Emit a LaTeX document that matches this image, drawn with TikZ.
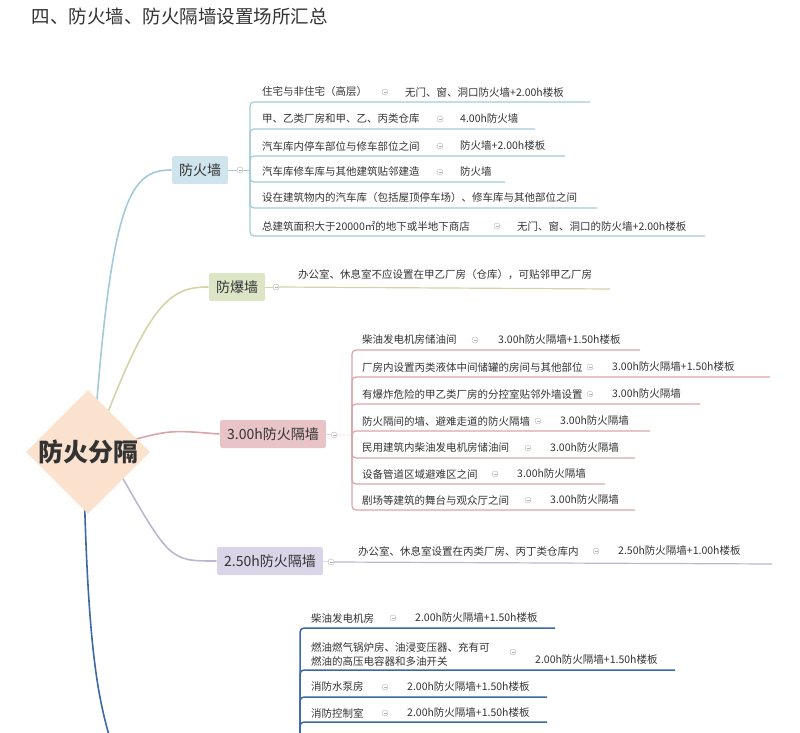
\documentclass[tikz,border=0pt]{standalone}
\usepackage{fontspec}
\setmainfont{Noto Sans CJK SC}
\usetikzlibrary{shapes.geometric}
\definecolor{txt}{HTML}{333333}
\definecolor{bluel}{HTML}{A3CAD8}
\definecolor{bluef}{HTML}{CFE4EC}
\definecolor{olivel}{HTML}{D6D3A8}
\definecolor{olivef}{HTML}{DCE6C6}
\definecolor{pinkl}{HTML}{D9A4AA}
\definecolor{pinkf}{HTML}{E8C4C7}
\definecolor{lavl}{HTML}{BDB5D2}
\definecolor{lavf}{HTML}{DAD4E8}
\definecolor{darkl}{HTML}{3C69A6}
\definecolor{peach}{HTML}{FBE2CE}

\begin{document}
\begin{tikzpicture}[x=1pt,y=-1pt,
  leaf/.style={inner sep=0pt, anchor=west, text=txt, font=\fontsize{10.5}{14}\selectfont},
  branch/.style={rectangle, rounded corners=2pt, minimum height=28pt, inner xsep=7pt, text=txt, font=\fontsize{14}{16}\selectfont},
  minus/.style={circle, draw=gray!60, thin, minimum size=6pt, inner sep=0pt, path picture={\draw[gray!60] (path picture bounding box.west) ++(1.5pt,0) -- ++(3pt,0);}},
  link/.style={line width=1.6pt, line cap=round}]
\useasboundingbox (0,0) rectangle (800,733);
\clip (0,0) rectangle (800,733);

\node[anchor=west, text=txt, font=\fontsize{18.5}{21}\selectfont] (title) at (28,16) {四、防火墙、防火隔墙设置场所汇总};

% main branches
\draw[link, bluel]  (95,425) .. controls (112,200) and (130,170) .. (171,170);
\draw[link, olivel] (102,428) .. controls (150,300) and (172,287) .. (208,287);
\draw[link, pinkl]  (125,442) .. controls (170,430) .. (219,434);
\draw[link, lavl]   (118,470) .. controls (170,561) .. (216,561);
\draw[link, darkl]  (84,480) .. controls (88,650) and (98,700) .. (112,745);

\node[diamond, fill=peach, minimum width=120pt, minimum height=78pt, inner sep=0pt,
      text=txt, font=\fontsize{25}{27}\selectfont\bfseries] (root) at (88,452) {防火分隔};

\node[branch, fill=bluef]  (fhq) at (200,170) {防火墙};
\node[branch, fill=olivef] (fbq) at (237,287) {防爆墙};
\node[branch, fill=pinkf]  (g300) at (273,434) {3.00h防火隔墙};
\node[branch, fill=lavf]   (g250) at (270,561) {2.50h防火隔墙};

% 防火墙
\node[minus] (fhqm) at (240,170) {};
\draw[bluel, thin] (fhq.east) -- (fhqm.west) (fhqm.east) -- (250,170);
\foreach \i/\y/\a/\c/\b/\e in {1/92/住宅与非住宅（高层）/385/无门、窗、洞口防火墙+2.00h楼板/590,
    2/119/甲、乙类厂房和甲、乙、丙类仓库/440/4.00h防火墙/535,
    3/146/汽车库内停车部位与修车部位之间/440/防火墙+2.00h楼板/565,
    4/172/汽车库修车库与其他建筑贴邻建造/440/防火墙/505,
    6/226/总建筑面积大于20000㎡的地下或半地下商店/497/无门、窗、洞口的防火墙+2.00h楼板/705}{
  \node[leaf] (fa\i) at (262,\y) {\a};
  \node[minus] (fm\i) at (\c,\y) {};
  \node[leaf] (fb\i) at (\c+20,\y) {\b};
  \draw[bluel, line width=1.2pt, rounded corners=4pt] (250,170) -- (250,\y+10) -- (\e,\y+10);
}
\node[leaf] (fa5) at (262,198) {设在建筑物内的汽车库（包括屋顶停车场）、修车库与其他部位之间};
\draw[bluel, line width=1.2pt, rounded corners=4pt] (250,170) -- (250,208) -- (597,208);

% 防爆墙
\node[minus] (fbqm) at (276,287) {};
\draw[olivel, thin] (fbq.east) -- (fbqm.west);
\draw[olivel, line width=1.2pt] (fbqm.east) -- (610,289);
\node[leaf] (fbqa) at (298,275) {办公室、休息室不应设置在甲乙厂房（仓库），可贴邻甲乙厂房};

% 3.00h防火隔墙
\node[minus] (g300m) at (334,435) {};
\draw[pinkl, thin] (g300.east) -- (g300m.west) (g300m.east) -- (352,435);
\foreach \i/\y/\a/\c/\e in {1/340/柴油发电机房储油间/475/640,
    2/367/厂房内设置丙类液体中间储罐的房间与其他部位/590/770,
    3/394/有爆炸危险的甲乙类厂房的分控室贴邻外墙设置/590/700,
    4/421/防火隔间的墙、避难走道的防火隔墙/538/650,
    5/448/民用建筑内柴油发电机房储油间/528/635,
    6/474/设备管道区域避难区之间/495/605,
    7/500/剧场等建筑的舞台与观众厅之间/528/635}{
  \node[leaf] (ga\i) at (362,\y) {\a};
  \node[minus] (gm\i) at (\c,\y) {};
  \draw[pinkl, line width=1.2pt, rounded corners=4pt] (352,435) -- (352,\y+10) -- (\e,\y+10);
}
\node[leaf] (gb1) at (498,340) {3.00h防火隔墙+1.50h楼板};
\node[leaf] (gb2) at (612,367) {3.00h防火隔墙+1.50h楼板};
\node[leaf] (gb3) at (612,394) {3.00h防火隔墙};
\node[leaf] (gb4) at (560,421) {3.00h防火隔墙};
\node[leaf] (gb5) at (550,448) {3.00h防火隔墙};
\node[leaf] (gb6) at (517,474) {3.00h防火隔墙};
\node[leaf] (gb7) at (550,500) {3.00h防火隔墙};

% 2.50h防火隔墙
\node[minus] (g250m) at (331,562) {};
\draw[lavl, thin] (g250.east) -- (g250m.west);
\draw[lavl, line width=1.2pt] (g250m.east) -- (772,564);
\node[leaf] (g250a) at (358,551) {办公室、休息室设置在丙类厂房、丙丁类仓库内};
\node[minus] (g250n) at (596,551) {};
\node[leaf] (g250b) at (618,551) {2.50h防火隔墙+1.00h楼板};

% 2.00h
\foreach \i/\y/\e in {1/628/555,2/670/675,3/697/547,4/722/547,5/748/547}{
  \draw[darkl, line width=1.5pt, rounded corners=4pt] (300,760) -- (300,\y) -- (\e,\y);
}
\node[leaf] (ha1) at (311,618) {柴油发电机房};
\node[minus] (hm1) at (393,618) {};
\node[leaf] (hb1) at (415,618) {2.00h防火隔墙+1.50h楼板};
\node[leaf, align=left] (ha2) at (311,654) {燃油燃气锅炉房、油浸变压器、充有可\\燃油的高压电容器和多油开关};
\node[minus] (hm2) at (513,652) {};
\node[leaf] (hb2) at (535,660) {2.00h防火隔墙+1.50h楼板};
\node[leaf] (ha3) at (311,687) {消防水泵房};
\node[minus] (hm3) at (385,687) {};
\node[leaf] (hb3) at (407,687) {2.00h防火隔墙+1.50h楼板};
\node[leaf] (ha4) at (311,713) {消防控制室};
\node[minus] (hm4) at (385,713) {};
\node[leaf] (hb4) at (407,713) {2.00h防火隔墙+1.50h楼板};
\end{tikzpicture}
\end{document}
